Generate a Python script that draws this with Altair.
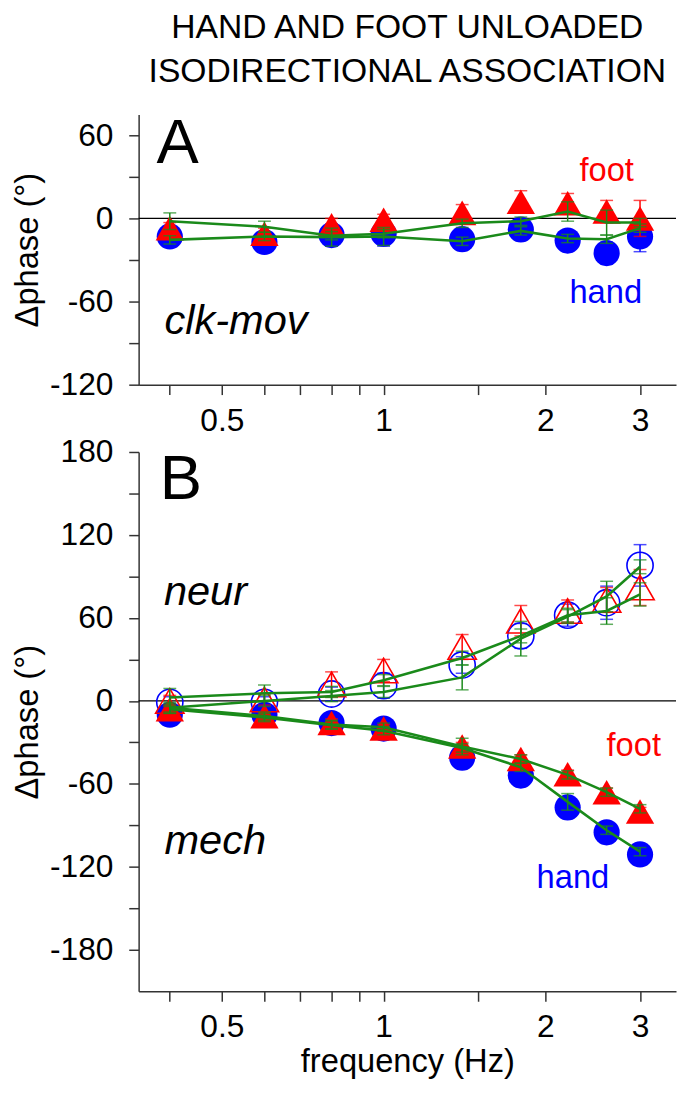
import altair as alt
import pandas as pd

# ---------------- data ----------------
freq = [0.4, 0.6, 0.8, 1.0, 1.4, 1.8, 2.2, 2.6, 3.0]

x_ticks = [0.4, 0.5, 0.6, 0.7, 0.8, 0.9, 1.0, 1.5, 2.0, 3.0]
x_labels = [0.5, 1, 2, 3]

# Panel A : clk-mov
a_hand = [-13, -17, -12, -11, -15, -8, -16, -25, -13]
a_hand_err = [4, 4, 8, 9, 4, 4, 4, 8, 11]
a_foot = [-7, -11, -5, -1, 4, 12, 11, 5, 0]
a_foot_err = [4, 4, 5, 4, 6, 8, 7, 8, 13]
a_green_hand = [-15.5, -13, -13.5, -13, -16.5, -9, -14.5, -15, -7]
a_green_hand_err = [3, 3, 6.5, 6.5, 3, 3, 3, 3, 3]
a_green_foot = [-2, -6, -12.5, -11, -3.5, -2, 5, -3, -3]
a_green_foot_err = [6, 4, 3, 3, 3, 3, 7, 9, 3]
a_y_ticks = [-120, -90, -60, -30, 0, 30, 60]

# Panel B : neur (open symbols) and mech (filled symbols)
b_neur_hand = [-1, -1, 5, 11, 26, 47, 62, 71, 98]
b_neur_hand_err = [4, 4, 5, 9, 6, 9, 8, 12, 15]
b_neur_foot = [0, 1, 12, 22, 39, 58, 65, 73, 82]
b_neur_foot_err = [4, 4, 9, 8, 9, 11, 8, 9, 13]
b_neur_green_hand = [-5, 0, 3.5, 6.5, 17, 45, 61, 75.5, 97]
b_neur_green_hand_err = [4, 4, 4, 4, 9, 12.5, 5, 11, 5]
b_neur_green_foot = [2.5, 5.5, 6.5, 15, 31, 47, 62, 65, 77]
b_neur_green_foot_err = [6.5, 6, 4, 4, 5, 5, 5, 9.6, 8.4]

b_mech_hand = [-10, -10, -16, -20, -41, -54, -77, -95, -111]
b_mech_hand_err = [3, 3, 3, 3, 3, 3, 4, 3, 3]
b_mech_foot = [-6, -11, -16, -20, -33, -42, -53, -66, -80]
b_mech_foot_err = [3, 3, 3, 3, 3, 3, 3, 3, 3]
b_mech_green_hand = [-6, -12, -17.5, -21.5, -34, -48, -73, -93.5, -109]
b_mech_green_hand_err = [3, 3, 3, 3, 3, 3, 6, 3, 3]
b_mech_green_foot = [-5, -11, -17, -19, -33, -42, -53.5, -66, -78]
b_mech_green_foot_err = [3, 3, 3, 3, 6, 3, 3, 3, 3]
b_y_ticks = [-180, -150, -120, -90, -60, -30, 0, 30, 60, 90, 120, 150, 180]

title_lines = ["HAND AND FOOT UNLOADED", "ISODIRECTIONAL ASSOCIATION"]

# annotation texts: (text, freq, phase)
a_notes = [("A", 0.378, 40), ("foot", 2.6, 27), ("hand", 2.59, -61), ("clk-mov", 0.391, -83.5)]
b_notes = [("B", 0.383, 146), ("neur", 0.39, 69), ("mech", 0.391, -111),
           ("foot", 2.92, -40), ("hand", 2.25, -135)]

# ---------------- styling ----------------
FONT = "Liberation Sans"
GREEN = "#1a8a1a"
BLUE = "#0000ff"
RED = "#ff0000"
W = 543
CIRCLE = 700
TRI = 820


def frame(vals, errs):
    return pd.DataFrame({
        "f": freq,
        "v": vals,
        "lo": [v - e for v, e in zip(vals, errs)],
        "hi": [v + e for v, e in zip(vals, errs)],
    })


def panel(ydomain, yticks, markers, greens, notes, height, xtitle, title=None):
    xlabel_expr = " || ".join(f"datum.value == {v}" for v in x_labels)
    xaxis_kw = dict(values=x_ticks,
                    labelExpr=f"({xlabel_expr}) ? toString(datum.value) : ''",
                    labelPadding=11, labelFontSize=32)
    if xtitle:
        xaxis_kw.update(title=xtitle, titleFontSize=33, titlePadding=3)
    else:
        xaxis_kw.update(title=None)
    xscale = alt.Scale(type="log", domain=[0.35, 3.5], nice=False)
    yscale = alt.Scale(domain=ydomain, nice=False, zero=False)
    yaxis = alt.Axis(values=yticks,
                     labelExpr="datum.value % 60 == 0 ? toString(datum.value) : ''",
                     title="\u0394phase (\u00b0)", titlePadding=5, labelPadding=16,
                     labelFontSize=32, titleFontSize=33)

    def X(field="f"):
        return alt.X(f"{field}:Q", scale=xscale, axis=alt.Axis(**xaxis_kw))

    def Y(field):
        return alt.Y(f"{field}:Q", scale=yscale, axis=yaxis)

    layers = []
    zero = alt.Chart(pd.DataFrame({"z": [0]})).mark_rule(color="black", strokeWidth=1.2).encode(y=Y("z"))
    layers.append(zero)

    def errbars(d, color):
        base = alt.Chart(d)
        r = base.mark_rule(color=color, strokeWidth=1.5).encode(x=X(), y=Y("lo"), y2="hi")
        t1 = base.mark_tick(color=color, orient="horizontal", size=13, thickness=1.5).encode(x=X(), y=Y("lo"))
        t2 = base.mark_tick(color=color, orient="horizontal", size=13, thickness=1.5).encode(x=X(), y=Y("hi"))
        return [r, t1, t2]

    for vals, errs, shape, color, filled, size in markers:
        d = frame(vals, errs)
        if filled:
            pts = alt.Chart(d).mark_point(shape=shape, filled=True, color=color, opacity=1, size=size)
        else:
            pts = alt.Chart(d).mark_point(shape=shape, filled=False, color=color, opacity=1,
                                          strokeWidth=1.6, size=size)
        layers.append(pts.encode(x=X(), y=Y("v")))
        layers.extend(errbars(d, color))

    for vals, errs in greens:
        d = frame(vals, errs)
        layers.append(alt.Chart(d).mark_line(color=GREEN, strokeWidth=2.6).encode(x=X(), y=Y("v")))
        layers.extend(errbars(d, GREEN))

    for text, fx, fy in notes:
        if text in ("A", "B"):
            kw = dict(fontSize=64, color="black", align="left")
        elif text in ("foot", "hand"):
            kw = dict(fontSize=33, color=RED if text == "foot" else BLUE, align="center")
        else:
            kw = dict(fontSize=42, color="black", align="left", fontStyle="italic")
        layers.append(
            alt.Chart(pd.DataFrame({"f": [fx], "v": [fy]}))
            .mark_text(text=text, font=FONT, baseline="alphabetic", **kw)
            .encode(x=X(), y=Y("v"))
        )

    props = dict(width=W, height=height)
    if title is not None:
        props["title"] = title
    return alt.layer(*layers).properties(**props)


title = alt.Title(title_lines, font=FONT, fontSize=34, fontWeight="normal", color="black",
                  anchor="middle", frame="group", lineHeight=44, offset=24)

panel_a = panel(
    [-120, 75], a_y_ticks,
    markers=[(a_hand, a_hand_err, "circle", BLUE, True, CIRCLE),
             (a_foot, a_foot_err, "triangle-up", RED, True, TRI)],
    greens=[(a_green_hand, a_green_hand_err), (a_green_foot, a_green_foot_err)],
    notes=a_notes, height=273, xtitle=None, title=title)

panel_b = panel(
    [-210, 180], b_y_ticks,
    markers=[(b_mech_hand, b_mech_hand_err, "circle", BLUE, True, CIRCLE),
             (b_neur_hand, b_neur_hand_err, "circle", BLUE, False, CIRCLE),
             (b_mech_foot, b_mech_foot_err, "triangle-up", RED, True, TRI),
             (b_neur_foot, b_neur_foot_err, "triangle-up", RED, False, TRI)],
    greens=[(b_neur_green_hand, b_neur_green_hand_err), (b_neur_green_foot, b_neur_green_foot_err),
            (b_mech_green_hand, b_mech_green_hand_err), (b_mech_green_foot, b_mech_green_foot_err)],
    notes=b_notes, height=545, xtitle="frequency (Hz)")

chart = (
    alt.vconcat(panel_a, panel_b, spacing=0)
    .properties(padding={"left": 3, "top": -2, "right": 0, "bottom": 0})
    .configure_view(stroke=None)
    .configure_axis(labelFont=FONT, titleFont=FONT, titleFontWeight="normal",
                    labelColor="black", titleColor="black", domainColor="#333",
                    tickColor="#333", domainWidth=1.5, tickWidth=1.5, tickSize=10, grid=False)
)

chart.save("out.html", embed_options={"renderer": "svg", "actions": False})
